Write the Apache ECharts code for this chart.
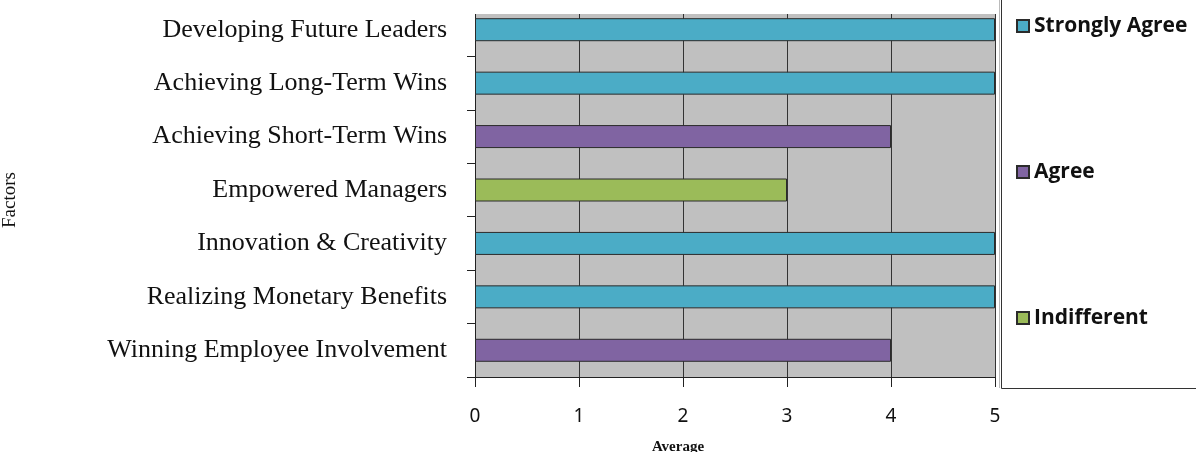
<!DOCTYPE html>
<html>
<head>
<meta charset="utf-8">
<script src="https://cdn.jsdelivr.net/npm/echarts@6/dist/echarts.min.js"></script>
<style>
  html, body { margin: 0; padding: 0; background: #fff; }
  #chart { width: 1196px; height: 452px; }
</style>
</head>
<body>
<div id="chart"></div>
<script>
// categories, top to bottom
const factors = [
    'Developing Future Leaders',
    'Achieving Long-Term Wins',
    'Achieving Short-Term Wins',
    'Empowered Managers',
    'Innovation & Creativity',
    'Realizing Monetary Benefits',
    'Winning Employee Involvement'
];

// one bar per factor, coloured by the answer group
const stronglyAgree = [5, 5, '-', '-', 5, 5, '-'];
const agree = ['-', '-', 4, '-', '-', '-', 4];
const indifferent = ['-', '-', '-', 3, '-', '-', '-'];

const averageTicks = [0, 1, 2, 3, 4, 5];

const myChart = echarts.init(document.getElementById('chart'));

const barStyle = (color) => ({
    color: color,
    borderColor: '#2b2b2b',
    borderWidth: 1
});

let option = {
    animation: false,
    grid: {
        left: 475,
        top: 3,
        width: 520,
        height: 374,
        outerBoundsMode: 'none', // keep the plot where it is, labels may leave the canvas
        containLabel: false,
        show: true,
        backgroundColor: '#C0C0C0',
        borderWidth: 0
    },
    legend: {
        orient: 'vertical',
        left: 1011,
        top: 7,
        itemGap: 118,
        itemWidth: 12,
        itemHeight: 12,
        icon: 'rect',
        textStyle: {
            fontFamily: 'Open Sans',
            fontWeight: 'bold',
            fontSize: 21,
            lineHeight: 28,
            color: '#111'
        },
        data: ['Strongly Agree', 'Agree', 'Indifferent']
    },
    xAxis: {
        type: 'value',
        min: averageTicks[0],
        max: averageTicks[averageTicks.length - 1],
        interval: 1,
        name: 'Average',
        nameLocation: 'middle',
        nameGap: 63,
        nameTextStyle: {
            fontFamily: 'Liberation Serif',
            fontWeight: 'bold',
            fontSize: 15,
            color: '#111',
            padding: [0, 114, 0, 0]
        },
        axisLine: { show: true, lineStyle: { color: '#222' } },
        axisTick: { show: true, length: 10, lineStyle: { color: '#222' } },
        splitLine: { show: true, lineStyle: { color: '#333' } },
        axisLabel: {
            margin: 30,
            fontFamily: 'Noto Sans',
            fontSize: 19,
            color: '#111'
        }
    },
    yAxis: {
        type: 'category',
        inverse: true,
        data: factors,
        name: 'Factors',
        nameLocation: 'middle',
        nameRotate: 90,
        nameGap: 455,
        nameTextStyle: {
            fontFamily: 'Liberation Serif',
            fontSize: 19,
            color: '#111',
            padding: [0, 20, 0, 0]
        },
        axisLine: { show: true, lineStyle: { color: '#222' } },
        axisTick: { show: true, length: 8, lineStyle: { color: '#222' } },
        axisLabel: {
            margin: 28,
            fontFamily: 'Liberation Serif',
            fontSize: 26,
            color: '#111'
        }
    },
    series: [
        {
            name: 'Strongly Agree',
            type: 'bar',
            stack: 'factor',
            barWidth: 23,
            itemStyle: barStyle('#4BACC6'),
            data: stronglyAgree
        },
        {
            name: 'Agree',
            type: 'bar',
            stack: 'factor',
            barWidth: 23,
            itemStyle: barStyle('#8064A2'),
            data: agree
        },
        {
            name: 'Indifferent',
            type: 'bar',
            stack: 'factor',
            barWidth: 23,
            itemStyle: barStyle('#9BBB59'),
            data: indifferent
        }
    ],
    // the source picture is cropped: plot area starts a bit below the first band,
    // and the legend frame only shows its left and bottom edges
    graphic: [
        {
            type: 'rect',
            z: 100,
            shape: { x: 440, y: 0, width: 560, height: 14 },
            style: { fill: '#fff' }
        },
        {
            type: 'polyline',
            z: 100,
            shape: { points: [[1001.5, 0], [1001.5, 388.5], [1196, 388.5]] },
            style: { stroke: '#333', lineWidth: 1, fill: null }
        },
        {
            type: 'line',
            z: 100,
            shape: { x1: 999.5, y1: 0, x2: 999.5, y2: 388 },
            style: { stroke: '#bbb', lineWidth: 1 }
        }
    ]
};

myChart.setOption(option);
</script>
</body>
</html>
